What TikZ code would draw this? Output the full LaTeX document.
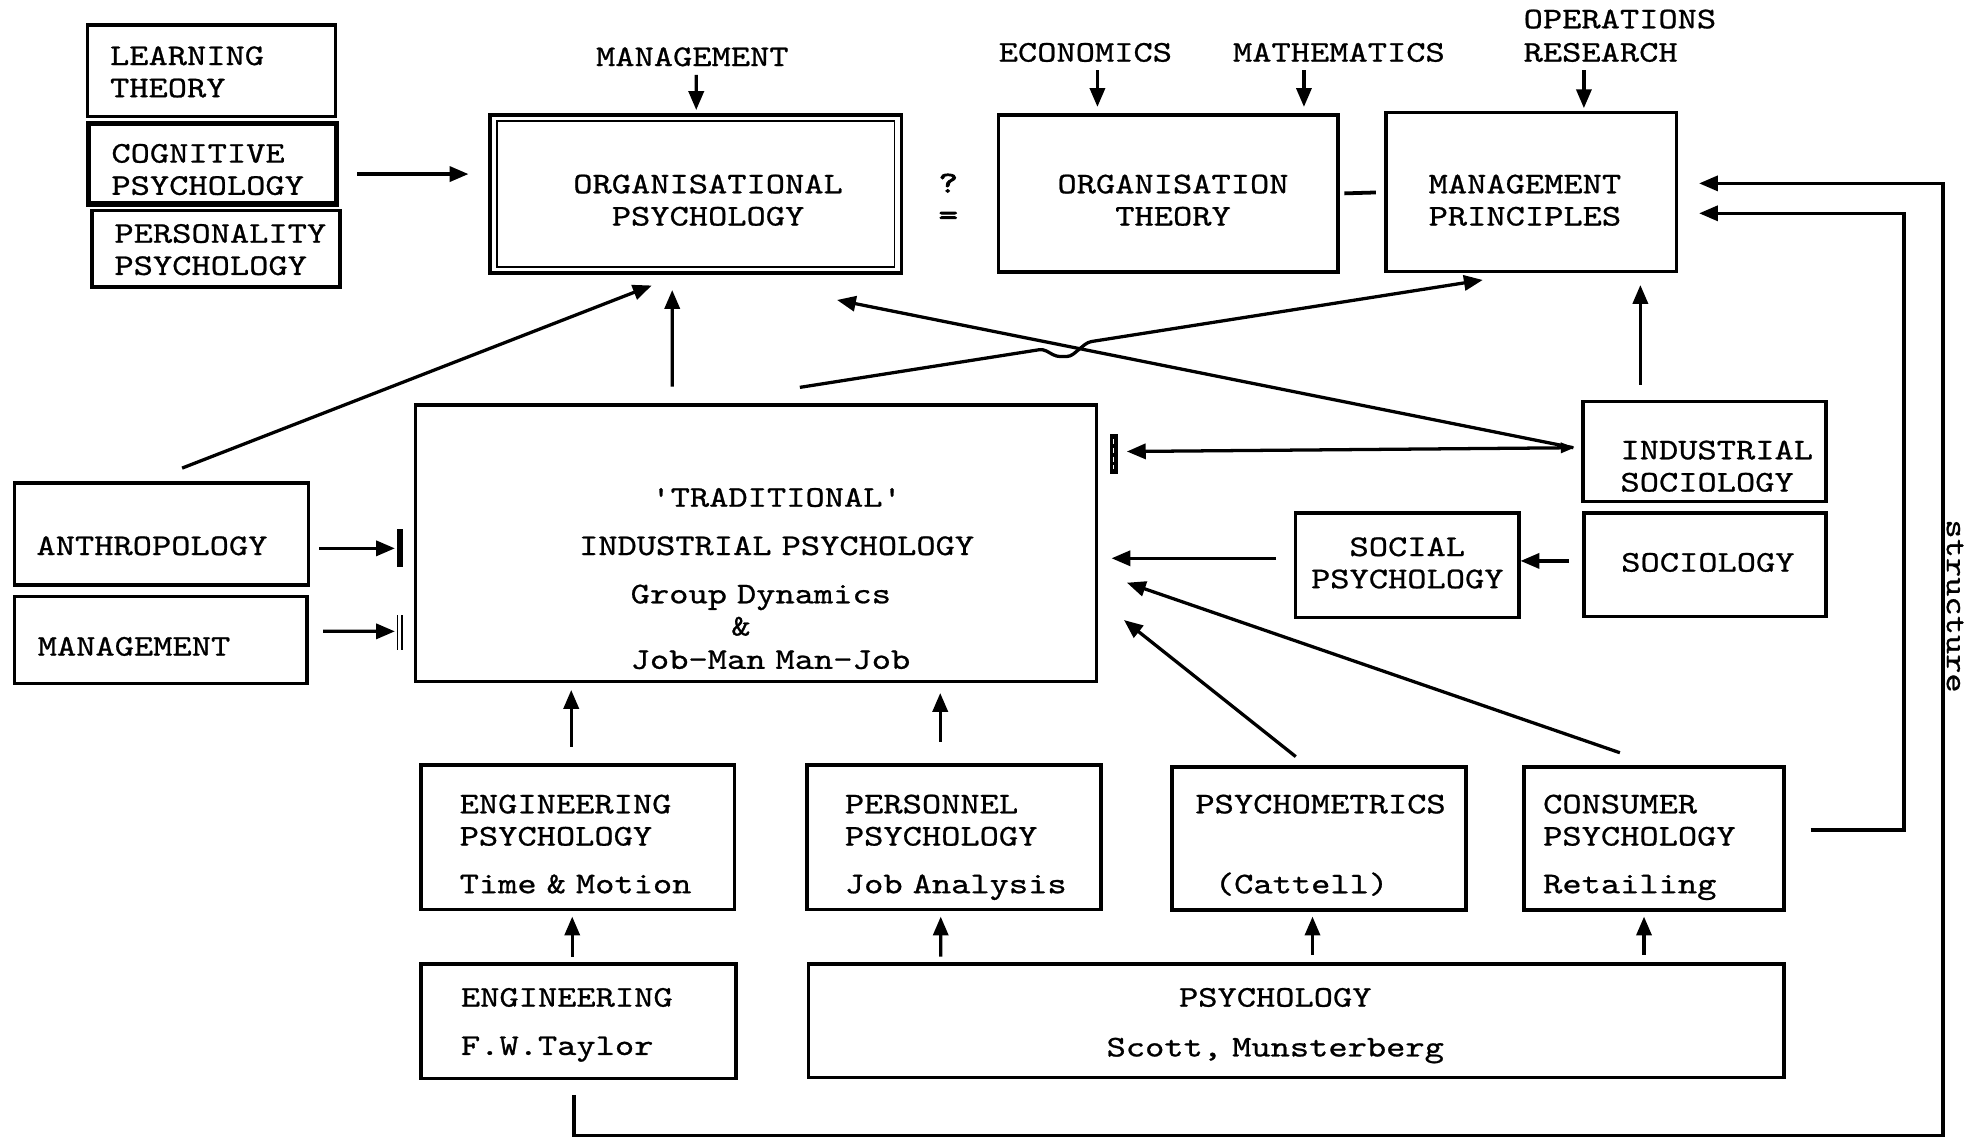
\documentclass[tikz,border=0pt]{standalone}
\usepackage{fontspec}
\setmonofont{lmmono10-regular.otf}[FakeStretch=1.22, FakeBold=0.8]
\newfontfamily\markfont{lmmono10-regular.otf}[FakeStretch=1.22, FakeBold=3]
\usetikzlibrary{arrows.meta}
% monospaced text: every space as wide as a letter
\newcommand\diagfont{\ttfamily\fontsize{23.9}{25.6}\selectfont
  \fontdimen2\font=15.31pt\fontdimen3\font=0pt\fontdimen4\font=0pt\relax}
\begin{document}
\begin{tikzpicture}[x=1pt,y=-1pt,
  box/.style={draw, line width=2.8pt, inner sep=0pt, outer sep=0pt, anchor=north west},
  lbl/.style={inner sep=0pt, outer sep=0pt, font=\diagfont},
  lbll/.style={lbl, text width=400pt, align=left, anchor=base west},
  lblc/.style={lbl, text width=400pt, align=center, anchor=base},
  tip/.style={-{Triangle[length=15pt,width=12pt]}},
  conn/.style={line width=2.6pt, tip},
]
\useasboundingbox (0,0) rectangle (1568,906);
\fill[white] (0,0) rectangle (1568,906);

% ---------- boxes ----------
\node[box, minimum width=197.2pt, minimum height=72.9pt] (learn) at (69.6,19.9) {};
\node[box, line width=4.2pt, minimum width=197.2pt, minimum height=64.2pt] (cog) at (70.6,98) {};
\node[box, minimum width=197.2pt, minimum height=60.9pt] (pers) at (73,167.5) {};
\node[box, minimum width=327.2pt, minimum height=125.6pt] (org) at (389.5,91.4) {};
\draw[line width=1.4pt] ([shift={(5.5pt,-5pt)}]org.north west) rectangle ([shift={(-5.5pt,5pt)}]org.south east);
\node[box, minimum width=270pt, minimum height=124.8pt] (orgth) at (794,91.5) {};
\node[box, minimum width=231pt, minimum height=126.4pt] (mp) at (1102,89.6) {};
\node[box, minimum width=234pt, minimum height=81pt] (anthro) at (11.4,384) {};
\node[box, minimum width=232.8pt, minimum height=68.9pt] (mgmt) at (11.4,474.4) {};
\node[box, minimum width=541.3pt, minimum height=220pt] (trad) at (330.5,322) {};
\node[box, minimum width=193.5pt, minimum height=79.5pt] (indsoc) at (1258.5,319.4) {};
\node[box, minimum width=192.6pt, minimum height=82.3pt] (soc) at (1259.4,408) {};
\node[box, minimum width=177.7pt, minimum height=83pt] (socpsy) at (1030,408) {};
\node[box, minimum width=249.4pt, minimum height=114.7pt] (engpsy) at (334.6,608.3) {};
\node[box, minimum width=233.7pt, minimum height=114.7pt] (perspsy) at (641.7,608.3) {};
\node[box, minimum width=233.6pt, minimum height=113.5pt] (psymet) at (932,610) {};
\node[box, minimum width=206.9pt, minimum height=113.5pt] (cons) at (1211.6,610) {};
\node[box, minimum width=250.6pt, minimum height=90.9pt] (eng) at (334.6,766.5) {};
\node[box, minimum width=775.5pt, minimum height=90.3pt] (psy) at (643,766.5) {};

% ---------- texts ----------
\node[lbll] (learn-t) at (87.5,51.7) {LEARNING\\THEORY};
\node[lbll] (cog-t) at (88.6,129.3) {COGNITIVE\\PSYCHOLOGY};
\node[lbll] (pers-t) at (91,193) {PERSONALITY\\PSYCHOLOGY};
\node[lblc] (mtop) at (550.5,52.5) {MANAGEMENT};
\node[lblc] (org-t) at (563,153.7) {ORGANISATIONAL\\PSYCHOLOGY};
\node[lblc, font=\markfont\fontsize{23.9}{25.6}\selectfont] (qeq) at (754,153) {?\\=};
\node[lblc] (econ) at (863,49) {ECONOMICS};
\node[lblc] (math) at (1064.6,49) {MATHEMATICS};
\node[lbll] (opr) at (1211.5,22.5) {OPERATIONS\\[0.9pt]RESEARCH};
\node[lblc] (orgth-t) at (932.7,153.7) {ORGANISATION\\THEORY};
\node[lblc] (mp-t) at (1212.5,153.7) {MANAGEMENT\\PRINCIPLES};
\node[lblc] (trad-t) at (617.5,402.9) {'TRADITIONAL'\\[12.8pt]INDUSTRIAL PSYCHOLOGY};
\node[lbll] (trad-s) at (501.5,479.7) {Group Dynamics\\\hspace*{80pt}\&\\[0.9pt]Job-Man Man-Job};
\node[lbll] (anthro-t) at (29,441.3) {ANTHROPOLOGY};
\node[lbll] (mgmt-t) at (30,521.3) {MANAGEMENT};
\node[lbll] (indsoc-t) at (1288.5,365.2) {INDUSTRIAL\\SOCIOLOGY};
\node[lblc] (soc-t) at (1358,454.5) {SOCIOLOGY};
\node[lblc] (socpsy-t) at (1119,442.1) {SOCIAL\\PSYCHOLOGY};
\node[lbll] (engpsy-t) at (365.5,646.7) {ENGINEERING\\PSYCHOLOGY\\[12.3pt]Time \& Motion};
\node[lbll] (perspsy-t) at (671.8,646.7) {PERSONNEL\\PSYCHOLOGY\\[12.3pt]Job Analysis};
\node[lbll] (psymet-t) at (950.5,646.7) {PSYCHOMETRICS\\[38pt]\hspace*{15.5pt}(Cattell)};
\node[lbll] (cons-t) at (1227,646.7) {CONSUMER\\PSYCHOLOGY\\[12.3pt]Retailing};
\node[lbll] (eng-t) at (366.5,800.4) {ENGINEERING\\[12.8pt]F.W.Taylor};
\node[lblc] (psy-t) at (1014,800.4) {PSYCHOLOGY\\[14pt]Scott, Munsterberg};
\node[lbl, rotate=-90, anchor=base west] (struct) at (1548,413) {structure};

% dash between organisation theory and management principles
\draw[line width=3pt, shorten <=5pt, shorten >=8pt] (orgth.east) -- (mp.west);

% ---------- bars beside the traditional box ----------
\draw[line width=4.5pt] ([shift={(-12.5pt,11pt)}]trad.west) -- ([shift={(-12.5pt,-19pt)}]trad.west);
\draw[line width=1.4pt] ([shift={(-14.5pt,-57pt)}]trad.west) -- ([shift={(-14.5pt,-85pt)}]trad.west);
\draw[line width=1.4pt] ([shift={(-11pt,-57pt)}]trad.west) -- ([shift={(-11pt,-85pt)}]trad.west);
\draw[line width=1.4pt, fill=black] ([shift={(11.2pt,86pt)}]trad.east) rectangle ([shift={(16.2pt,56pt)}]trad.east);
\draw[white, line width=1.2pt, dash pattern=on 4pt off 3pt] ([shift={(13.7pt,83pt)}]trad.east) -- ([shift={(13.7pt,59pt)}]trad.east);

% ---------- connectors, top ----------
\draw[conn] ([shift={(16.1pt,-8.3pt)}]cog.east) -- ([shift={(-17pt,15.8pt)}]org.west);
\draw[conn] ([shift={(3.1pt,-7.1pt)}]mtop.base) -- ([shift={(0.5pt,3.9pt)}]org.north);
\draw[conn] ([shift={(9.6pt,-6.7pt)}]econ.base) -- ([shift={(-56.4pt,6.5pt)}]orgth.north);
\draw[conn] ([shift={(-27.8pt,-6.7pt)}]math.base) -- ([shift={(107.8pt,6.5pt)}]orgth.north);
\draw[conn] ([shift={(47.9pt,-33.5pt)}]opr.base west) -- ([shift={(41.9pt,3.6pt)}]mp.north);

% ---------- connectors, middle ----------
\draw[conn] ([shift={(16.4pt,11.8pt)}]anthro.north) -- ([shift={(-34.9pt,-10pt)}]org.south);
\draw[conn] ([shift={(-66.65pt,14.5pt)}]trad.north) -- ([shift={(-18.6pt,-13.6pt)}]org.south);
\draw[conn] ([shift={(-7.5pt,3.15pt)}]indsoc.west) -- ([shift={(112.4pt,-21.5pt)}]org.south);
\coordinate (humpA) at (829.3,277.6);
\coordinate (humpB) at (865,272);
\draw[conn, rounded corners=3pt] ([shift={(34.85pt,14pt)}]trad.north) -- (humpA) -- (840,283.5) -- (851,283.5) -- (humpB) -- ([shift={(-38.5pt,-6.6pt)}]mp.south);
\draw[conn] ([shift={(-50.95pt,13.4pt)}]indsoc.north) -- ([shift={(86.8pt,-10.6pt)}]mp.south);
\draw[line width=2.6pt, {Triangle[length=11pt,width=8pt]}-{Triangle[length=15pt,width=12pt]}] ([shift={(-6.5pt,3.15pt)}]indsoc.west) -- ([shift={(24.2pt,73pt)}]trad.east);
\draw[conn] ([shift={(-11.8pt,3.15pt)}]soc.west) -- ([shift={(1.3pt,3.5pt)}]socpsy.east);
\draw[conn] ([shift={(-15.4pt,5.6pt)}]socpsy.west) -- ([shift={(12pt,-11.9pt)}]trad.east);
\draw[conn] ([shift={(-27.05pt,11.5pt)}]cons.north) -- ([shift={(24.2pt,-31.3pt)}]trad.east);
\draw[conn] ([shift={(-18.5pt,8.4pt)}]psymet.north) -- ([shift={(21.9pt,-61pt)}]trad.east);
\draw[conn] ([shift={(8.6pt,-11.5pt)}]anthro.east) -- ([shift={(-16.5pt,-4pt)}]trad.west);
\draw[conn] ([shift={(12.8pt,6.85pt)}]mgmt.east) -- ([shift={(-16.5pt,-70pt)}]trad.west);

% ---------- connectors, bottom ----------
\draw[conn] ([shift={(-5.1pt,14.6pt)}]engpsy.north) -- ([shift={(-146.95pt,-6.6pt)}]trad.south);
\draw[conn] ([shift={(-10.95pt,18.6pt)}]perspsy.north) -- ([shift={(146.45pt,-9pt)}]trad.south);
\draw[conn] ([shift={(-4.9pt,5.8pt)}]eng.north) -- ([shift={(-4.3pt,-5.8pt)}]engpsy.south);
\draw[conn] ([shift={(-282.75pt,5.8pt)}]psy.north) -- ([shift={(-10.55pt,-5.8pt)}]perspsy.south);
\draw[conn] ([shift={(12.85pt,7.2pt)}]psy.north) -- ([shift={(-5.2pt,-5.3pt)}]psymet.south);
\draw[conn] ([shift={(276.45pt,7.2pt)}]psy.north) -- ([shift={(-7.85pt,-5.3pt)}]cons.south);

% ---------- feedback loops into management principles ----------
\coordinate (loopQ) at (1514,169.6);
\coordinate (loopR) at (1545,903);
\draw[conn] ([shift={(21.2pt,6.75pt)}]cons.east) -| (loopQ) -- ([shift={(18pt,-16.8pt)}]mp.east);
\draw[conn] ([shift={(-3.6pt,-13.2pt)}]eng.south) |- (loopR) |- ([shift={(18pt,7pt)}]mp.east);
\end{tikzpicture}
\end{document}
